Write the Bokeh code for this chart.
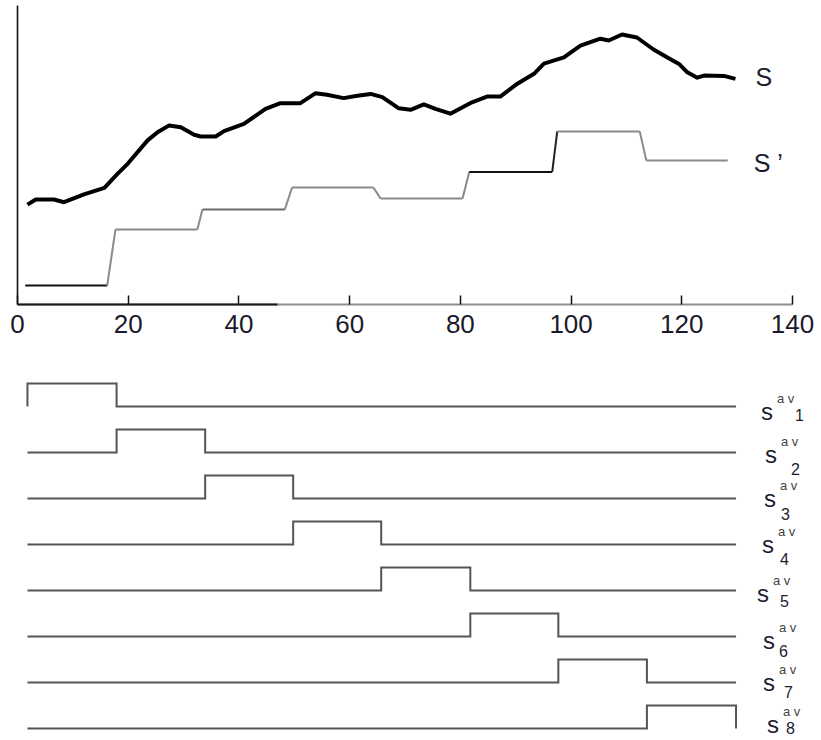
from bokeh.plotting import figure
from bokeh.models import Range1d, FixedTicker, LinearAxis
from bokeh.embed import file_html
from bokeh.resources import INLINE
from bokeh.core.properties import value

FONT = value("Liberation Sans")

# Signal S (thick curve)
s_time = [1.8, 3.3, 6.6, 8.4, 12.0, 15.7, 18.1, 19.9, 23.5, 25.3,
          27.4, 29.5, 31.9, 33.1, 35.8, 37.3, 40.9, 44.8, 47.5, 51.1,
          53.8, 55.9, 58.9, 61.4, 63.8, 65.9, 68.9, 71.0, 73.4, 75.5,
          78.2, 82.1, 84.8, 87.2, 90.3, 93.3, 95.1, 98.7, 101.7, 105.3,
          106.8, 109.2, 111.9, 114.9, 117.4, 119.5, 121.0, 122.8, 124.0, 127.6,
          129.7]
s_value = [33.3, 35.0, 35.0, 34.1, 36.7, 38.9, 43.6, 46.9, 54.7, 57.4,
           59.7, 59.1, 56.6, 56.0, 56.0, 57.8, 60.2, 65.2, 67.1, 67.1,
           70.4, 69.9, 68.8, 69.6, 70.2, 69.1, 65.4, 64.9, 66.7, 65.2,
           63.6, 67.4, 69.3, 69.3, 73.6, 76.9, 80.3, 82.4, 86.3, 88.6,
           88.0, 90.0, 89.0, 85.0, 82.3, 80.2, 77.4, 75.6, 76.3, 76.2,
           75.2]

# Window-averaged signal S' (piecewise constant with short ramps)
sq_time = [1.4, 16.2, 17.7, 32.5, 33.4, 48.3, 49.6, 64.3,
           65.6, 80.4, 81.6, 96.6, 97.5, 112.4, 113.6, 128.3]
sq_value = [6.3, 6.3, 25.0, 25.0, 31.7, 31.7, 39.0, 39.0,
            35.3, 35.3, 44.2, 44.2, 57.7, 57.7, 48.0, 48.0]
GRAY = "#8a8a8a"
sq_colors = ["#111111", GRAY, GRAY, GRAY, "#6a6a6a", GRAY, GRAY, GRAY,
             GRAY, GRAY, "#111111", "#222222", GRAY, GRAY, GRAY]

x_ticks = [0, 20, 40, 60, 80, 100, 120, 140]

# Averaging windows used by the indicator signals s^av_i
window_edges = [1.8, 17.9, 33.9, 49.8, 65.7, 81.8, 97.7, 113.7, 129.8]
indicator_names = ["1", "2", "3", "4", "5", "6", "7", "8"]

# ---- one canvas: upper panel (S, S') and the stacked indicator traces below ----
PX_X = 775 / 140          # pixels per time unit
PX_Y = 3.0                # pixels per value unit
p = figure(width=821, height=740, output_backend="svg", toolbar_location=None,
           x_range=Range1d(-17 / PX_X, 804 / PX_X),
           y_range=Range1d(-436 / PX_Y, 304 / PX_Y),
           x_axis_type=None, y_axis_type=None, min_border=0)
p.outline_line_color = None
p.grid.visible = False

# time axis of the upper panel, drawn at value 0
xa = LinearAxis(fixed_location=0, bounds=(0, 140), ticker=FixedTicker(ticks=x_ticks))
xa.minor_tick_line_color = None
xa.major_tick_in = 9
xa.major_tick_out = 0
xa.major_tick_line_width = 1.5
xa.major_tick_line_color = "#111111"
xa.axis_line_width = 2
xa.axis_line_color = "#8f8f8f"
xa.major_label_text_font = "Liberation Sans"
xa.major_label_text_font_size = "26px"
xa.major_label_text_color = "#1a1a2a"
xa.major_label_standoff = 10
p.add_layout(xa, "below")

xa_dark = LinearAxis(fixed_location=0, bounds=(0, 47), ticker=FixedTicker(ticks=[]))
xa_dark.minor_tick_line_color = None
xa_dark.major_tick_line_color = None
xa_dark.major_label_text_font_size = "0px"
xa_dark.axis_line_width = 2
xa_dark.axis_line_color = "#1a1a1a"
p.add_layout(xa_dark, "below")

ya = LinearAxis(fixed_location=0, bounds=(0, 99.67), ticker=FixedTicker(ticks=[]))
ya.minor_tick_line_color = None
ya.major_tick_line_color = None
ya.major_label_text_font_size = "0px"
ya.axis_line_width = 1.6
ya.axis_line_color = "#111111"
p.add_layout(ya, "left")

p.line(s_time, s_value, line_color="black", line_width=4, line_join="round")
p.segment(x0=sq_time[:-1], y0=sq_value[:-1], x1=sq_time[1:], y1=sq_value[1:],
          line_color=sq_colors, line_width=2)

p.text(x=[133.3], y=[s_value[-1] + 0.5], text=["S"], text_font=FONT,
       text_font_size="25px", text_baseline="middle", text_color="#1c1c30")
p.text(x=[133.0], y=[sq_value[-1] - 0.7], text=["S \u2019"], text_font=FONT,
       text_font_size="25px", text_baseline="middle", text_color="#1c1c30")

# ---- indicator traces: 1 inside window i, 0 elsewhere ----
first_base = -34.0        # baseline of the first trace
trace_gap = 46 / PX_Y     # vertical distance between traces
pulse_h = 23 / PX_Y       # height of a pulse
n = len(indicator_names)
xs, ys = [], []
for i in range(n):
    lo = first_base - i * trace_gap
    hi = lo + pulse_h
    a, b = window_edges[i], window_edges[i + 1]
    xs.append([window_edges[0], a, a, b, b, window_edges[-1]])
    ys.append([lo, lo, hi, hi, lo, lo])
p.multi_line(xs, ys, line_color="#555555", line_width=2, line_join="miter")

# labels s^av_i to the right of each trace (pixel nudges per label)
label_x = 134.3
s_dx = [0, 4, 3, 1, -4, 2, 2, 6]
s_dy = [5, 2, 0, 0, 3, 4, 0, -4]
sub_dx = [34, 26, 17, 18, 23, 16, 21, 19]
sub_dy = [3, 14, 15, 14, 7, 10, 9, 3]
for i, name in enumerate(indicator_names):
    base = first_base - i * trace_gap
    p.text(x=[label_x], y=[base], text=["s"], text_font=FONT,
           text_font_size="24px", text_baseline="alphabetic",
           x_offset=s_dx[i], y_offset=s_dy[i], text_color="#1c1c30")
    p.text(x=[label_x], y=[base], text=["a v"], text_font=FONT,
           text_font_size="13px", text_baseline="alphabetic",
           x_offset=s_dx[i] + 16, y_offset=s_dy[i] - 13, text_color="#444444")
    p.text(x=[label_x], y=[base], text=[name], text_font=FONT,
           text_font_size="16px", text_baseline="alphabetic",
           x_offset=s_dx[i] + sub_dx[i], y_offset=s_dy[i] + sub_dy[i],
           text_color="#1c1c30")

open("out.html", "w").write(file_html(p, INLINE))
